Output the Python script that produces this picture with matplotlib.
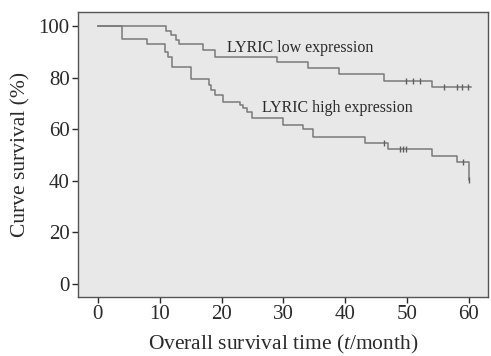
import matplotlib
matplotlib.use("Agg")
import matplotlib.pyplot as plt

# Kaplan-Meier steps (time in months, survival in %)
low_times = [0, 11.1, 11.9, 12.7, 13.1, 17.0, 18.9, 28.9, 34.0, 39.0, 46.2, 54.0, 60.4]
low_surv = [100, 98.2, 96.5, 94.6, 92.9, 90.7, 88.1, 85.9, 83.6, 81.3, 78.8, 76.2, 76.2]
low_cens_t = [49.9, 51.0, 52.1, 55.9, 58.0, 58.9, 59.9]
low_cens_s = [78.8, 78.8, 78.8, 76.2, 76.2, 76.2, 76.2]

high_times = [0, 3.9, 8.0, 10.9, 11.3, 12.0, 15.0, 17.9, 18.3, 19.0, 20.2, 23.0, 23.4,
              24.1, 25.0, 30.0, 33.2, 34.8, 43.2, 47.0, 54.0, 58.0, 60.0]
high_surv = [100, 94.8, 93.0, 90.0, 88.1, 84.0, 79.3, 77.1, 75.2, 73.3, 70.7, 69.4, 68.1,
             66.8, 64.2, 61.6, 60.0, 57.1, 54.5, 52.2, 49.6, 47.2, 40.3]
high_cens_t = [46.2, 48.9, 49.4, 49.9, 59.0, 60.0]
high_cens_s = [54.5, 52.2, 52.2, 52.2, 47.2, 40.3]

x_ticks = [0, 10, 20, 30, 40, 50, 60]
y_ticks = [0, 20, 40, 60, 80, 100]

plt.rcParams['font.family'] = ['Liberation Serif', 'DejaVu Serif']
plt.rcParams['mathtext.fontset'] = 'custom'
plt.rcParams['mathtext.rm'] = 'Liberation Serif'
plt.rcParams['mathtext.it'] = 'Liberation Serif:italic'
text_col = '#2a2a2a'
line_col = '#7a7a7a'

fig = plt.figure(figsize=(4.91, 3.56), dpi=100)
ax = fig.add_axes([0.159, 0.166, 0.835, 0.800])
ax.set_facecolor('#e8e8e8')

ax.step(low_times, low_surv, where='post', color=line_col, lw=1.1)
ax.step(high_times, high_surv, where='post', color=line_col, lw=1.1)
ax.plot(low_cens_t, low_cens_s, ls='none', marker='|', ms=4, mew=1, color='#606060')
ax.plot(high_cens_t, high_cens_s, ls='none', marker='|', ms=4, mew=1, color='#606060')

ax.text(20.9, 91.5, 'LYRIC low expression', fontsize=11.5, color=text_col, va='center')
ax.text(26.6, 68.2, 'LYRIC high expression', fontsize=11.5, color=text_col, va='center')

ax.set_xlim(-3.2, 63.1)
ax.set_ylim(-5, 105.4)
ax.set_xticks(x_ticks)
ax.set_yticks(y_ticks)
ax.tick_params(labelsize=15, colors=text_col, length=4, width=1, pad=2)
for s in ax.spines.values():
    s.set_color('#555555')
    s.set_linewidth(1)

ax.set_xlabel('Overall survival time ($t$/month)', fontsize=15.5, color=text_col, labelpad=6)
ax.set_ylabel('Curve survival (%)', fontsize=15.5, color=text_col, labelpad=6)

fig.savefig('out.png', dpi=100)
